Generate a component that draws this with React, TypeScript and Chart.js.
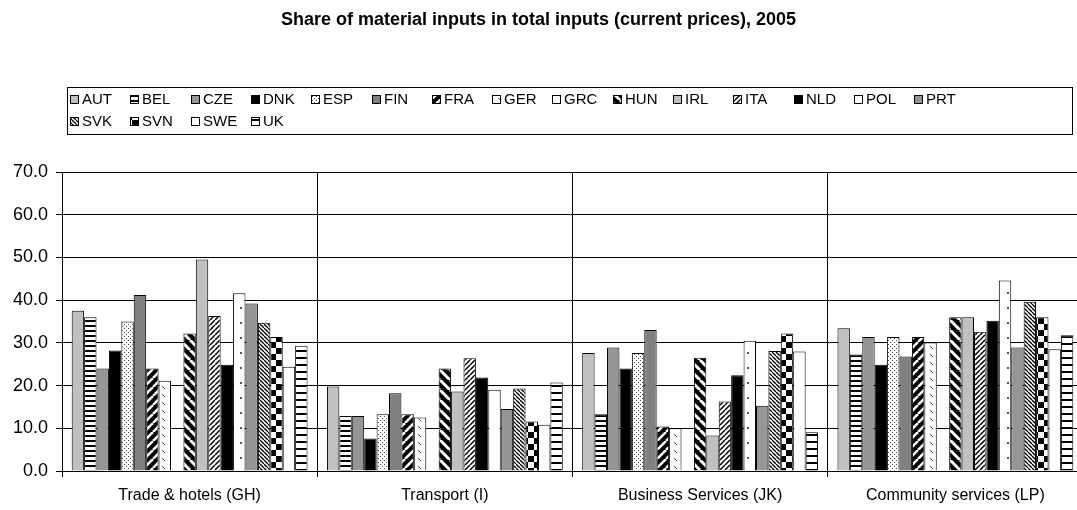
import React, { useEffect, useRef } from "react";
import { Chart, registerables } from "chart.js";

Chart.register(...registerables);

const TITLE = "Share of material inputs in total inputs (current prices), 2005";
const categories = ["Trade & hotels (GH)", "Transport (I)", "Business Services (JK)", "Community services (LP)"];
const countries = ["AUT", "BEL", "CZE", "DNK", "ESP", "FIN", "FRA", "GER", "GRC", "HUN", "IRL", "ITA", "NLD", "POL", "PRT", "SVK", "SVN", "SWE", "UK"];

const AUT = [37.5, 19.8, 27.6, 33.4];
const BEL = [36.0, 12.9, 13.3, 27.3];
const CZE = [24.0, 12.9, 28.9, 31.4];
const DNK = [28.2, 7.6, 24.0, 24.9];
const ESP = [35.0, 13.3, 27.6, 31.4];
const FIN = [41.2, 18.2, 33.0, 26.8];
const FRA = [24.0, 13.3, 10.4, 31.4];
const GER = [21.1, 12.5, 10.0, 30.1];
const GRC = [null, null, null, null];
const HUN = [32.2, 24.0, 26.5, 36.0];
const IRL = [49.5, 18.6, 8.3, 36.0];
const ITA = [36.3, 26.4, 16.3, 32.6];
const NLD = [24.9, 21.9, 22.4, 35.2];
const POL = [41.6, 19.0, 30.5, 44.6];
const PRT = [39.2, 14.5, 15.3, 28.9];
const SVK = [34.7, 19.3, 28.1, 39.6];
const SVN = [31.4, 11.6, 32.2, 36.0];
const SWE = [24.4, 10.8, 28.0, 28.5];
const UK = [29.3, 20.7, 9.1, 31.8];

const seriesValues = [AUT, BEL, CZE, DNK, ESP, FIN, FRA, GER, GRC, HUN, IRL, ITA, NLD, POL, PRT, SVK, SVN, SWE, UK];
const yTicks = [0, 10, 20, 30, 40, 50, 60, 70];

const FONT = '"Liberation Sans", Arial, sans-serif';

function tile(w: number, h: number, draw: (c: CanvasRenderingContext2D) => void): CanvasPattern | string {
  const cv = document.createElement("canvas");
  cv.width = w;
  cv.height = h;
  const c = cv.getContext("2d")!;
  draw(c);
  return c.createPattern(cv, "repeat")!;
}

function diag(c: CanvasRenderingContext2D, w: number, bg: string, fg: string, lw: number, up: boolean) {
  c.fillStyle = bg;
  c.fillRect(0, 0, w, w);
  c.strokeStyle = fg;
  c.lineWidth = lw;
  for (let k = -1; k <= 1; k++) {
    c.beginPath();
    if (up) {
      c.moveTo(k * w, w);
      c.lineTo(k * w + w, 0);
    } else {
      c.moveTo(k * w, 0);
      c.lineTo(k * w + w, w);
    }
    c.stroke();
  }
}

function makeFill(name: string): CanvasPattern | string {
  switch (name) {
    case "AUT":
    case "IRL":
      return "#c0c0c0";
    case "CZE":
      return "#969696";
    case "FIN":
      return "#808080";
    case "PRT":
      return "#969696";
    case "DNK":
    case "NLD":
      return "#000000";
    case "SWE":
    case "GRC":
      return "#ffffff";
    case "BEL":
      return tile(4, 5, (c) => {
        c.fillStyle = "#fff";
        c.fillRect(0, 0, 4, 5);
        c.fillStyle = "#000";
        c.fillRect(0, 0, 4, 2);
      });
    case "UK":
      return tile(4, 7, (c) => {
        c.fillStyle = "#fff";
        c.fillRect(0, 0, 4, 7);
        c.fillStyle = "#000";
        c.fillRect(0, 0, 4, 2);
      });
    case "ESP":
      return tile(4, 4, (c) => {
        c.fillStyle = "#fff";
        c.fillRect(0, 0, 4, 4);
        c.fillStyle = "#444";
        c.fillRect(0, 0, 1, 1);
        c.fillRect(2, 2, 1, 1);
      });
    case "POL":
      return tile(13, 15, (c) => {
        c.fillStyle = "#fff";
        c.fillRect(0, 0, 13, 15);
        c.fillStyle = "#555";
        c.fillRect(6, 7, 2, 2);
      });
    case "FRA":
      return tile(9, 9, (c) => diag(c, 9, "#000", "#fff", 2.6, true));
    case "HUN":
      return tile(10, 10, (c) => diag(c, 10, "#000", "#fff", 3, false));
    case "ITA":
      return tile(5, 5, (c) => diag(c, 5, "#fff", "#000", 1.5, true));
    case "SVK":
      return tile(4, 4, (c) => diag(c, 4, "#fff", "#000", 1.3, false));
    case "GER":
      return tile(8, 8, (c) => {
        c.fillStyle = "#fff";
        c.fillRect(0, 0, 8, 8);
        c.strokeStyle = "#555";
        c.lineWidth = 1;
        c.beginPath();
        c.moveTo(2, 2);
        c.lineTo(5, 5);
        c.stroke();
      });
    case "SVN":
      return tile(12, 12, (c) => {
        c.fillStyle = "#fff";
        c.fillRect(0, 0, 12, 12);
        c.fillStyle = "#000";
        c.fillRect(0, 0, 6, 6);
        c.fillRect(6, 6, 6, 6);
      });
  }
  return "#fff";
}

export default function App() {
  const ref = useRef<HTMLCanvasElement>(null);

  useEffect(() => {
    document.body.style.margin = "0";
    const canvas = ref.current!;
    const fills = countries.map((c) => makeFill(c));

    const decor = {
      id: "decor",
      afterDraw(chart: any) {
        const ctx: CanvasRenderingContext2D = chart.ctx;
        ctx.save();
        ctx.fillStyle = "#000";
        ctx.font = `bold 18px ${FONT}`;
        ctx.textAlign = "center";
        ctx.textBaseline = "middle";
        ctx.fillText(TITLE, 538.5, 20);

        ctx.strokeStyle = "#000";
        ctx.lineWidth = 1;
        ctx.strokeRect(67.5, 87.5, 1005, 47);

        ctx.font = `15px ${FONT}`;
        ctx.textAlign = "left";
        countries.forEach((name, i) => {
          const row = i < 15 ? 0 : 1;
          const col = i < 15 ? i : i - 15;
          const x = Math.round(70 + col * 60.3);
          const y = row === 0 ? 99 : 121;
          ctx.fillStyle = fills[i] as any;
          ctx.fillRect(x, y - 4, 9, 9);
          ctx.strokeStyle = "#000";
          ctx.strokeRect(x + 0.5, y - 3.5, 8, 8);
          ctx.fillStyle = "#000";
          ctx.fillText(name, x + 12, y + 1);
        });
        ctx.restore();
      },
    };

    const chart = new Chart(canvas, {
      type: "bar",
      data: {
        labels: categories,
        datasets: countries.map((name, i) => ({
          label: name,
          data: seriesValues[i] as any,
          backgroundColor: fills[i] as any,
          borderColor: "#000",
          borderWidth: 1,
          categoryPercentage: 0.924,
          barPercentage: 1.0,
        })),
      },
      options: {
        responsive: false,
        animation: false,
        devicePixelRatio: 1,
        layout: { padding: { top: 172, left: 0, right: 7, bottom: 0 } },
        plugins: {
          legend: { display: false },
          title: { display: false },
          tooltip: { enabled: false },
        },
        scales: {
          x: {
            grid: { color: "#000", lineWidth: 1, offset: true, drawTicks: true, tickLength: 6 },
            border: { color: "#000", width: 1 },
            ticks: { font: { size: 16, family: FONT }, color: "#000", padding: 9, maxRotation: 0, autoSkip: false },
            afterFit: (s: any) => {
              s.height = 39;
            },
          },
          y: {
            min: 0,
            max: 70,
            afterBuildTicks: (s: any) => {
              s.ticks = yTicks.map((v) => ({ value: v }));
            },
            ticks: {
              font: { size: 18, family: FONT },
              color: "#000",
              padding: 8,
              callback: (v: any) => Number(v).toFixed(1),
            },
            grid: { color: "#000", lineWidth: 1, tickLength: 6 },
            border: { color: "#000", width: 1 },
            afterFit: (s: any) => {
              s.width = 62;
            },
          },
        },
      },
      plugins: [decor],
    });

    return () => chart.destroy();
  }, []);

  return (
    <div style={{ width: 1077, height: 510, overflow: "hidden", position: "relative" }}>
      <canvas ref={ref} width={1090} height={510} style={{ display: "block" }} />
    </div>
  );
}
